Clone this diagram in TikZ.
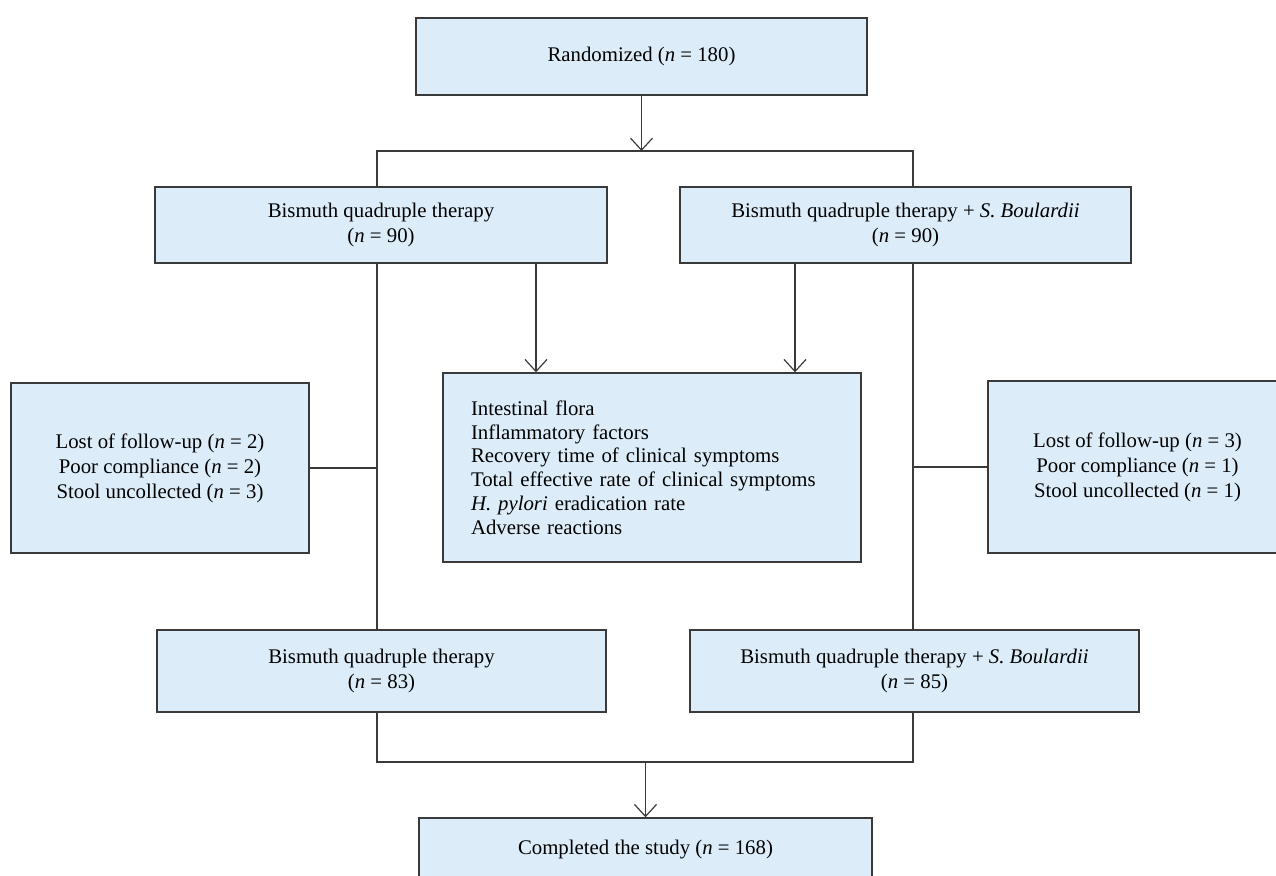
\documentclass[tikz,border=0pt]{standalone}
\usepackage{fontspec}
\setmainfont{Liberation Serif}
\usetikzlibrary{arrows.meta}
\definecolor{boxfill}{HTML}{DCEDF9}
\definecolor{boxline}{HTML}{3A3A3A}
\tikzset{
  box/.style={draw=boxline, fill=boxfill, line width=0.7pt, align=center, inner sep=0pt,
    font=\fontsize{10.4pt}{12.5pt}\selectfont},
  link/.style={draw=boxline, line width=0.6pt},
  arr/.style={link, -{Straight Barb[length=6pt,width=11pt]}}
}
\begin{document}
\begin{tikzpicture}[x=0.5pt, y=-0.5pt]
  \path[use as bounding box] (0,0) rectangle (1276,875);
  \clip (0,0) rectangle (1276,875);
  % Boxes
  \node[box, minimum width=225.5pt, minimum height=38.5pt] (rand) at (641.5,56.5)
    {Randomized (\textit{n} = 180)};
  \node[box, minimum width=226pt, minimum height=38pt] (bqt) at (381,225)
    {Bismuth quadruple therapy\\(\textit{n} = 90)};
  \node[box, minimum width=225.5pt, minimum height=38pt] (bqs) at (905.5,225)
    {Bismuth quadruple therapy + \textit{S. Boulardii}\\(\textit{n} = 90)};
  \node[box, minimum width=209pt, minimum height=94.5pt, inner xsep=14pt,
    text width=181pt, align=left, font=\fontsize{10.4pt}{11.9pt}\selectfont] (outc) at (652,467.5)
    {Intestinal flora\\Inflammatory factors\\Recovery time of clinical symptoms\\
     Total effective rate of clinical symptoms\\\textit{H. pylori} eradication rate\\
     Adverse reactions};
  \node[box, minimum width=149pt, minimum height=85pt] (lostl) at (160,468)
    {Lost of follow-up (\textit{n} = 2)\\Poor compliance (\textit{n} = 2)\\Stool uncollected (\textit{n} = 3)};
  \node[box, minimum width=149.5pt, minimum height=86pt] (lostr) at (1137.5,467)
    {Lost of follow-up (\textit{n} = 3)\\Poor compliance (\textit{n} = 1)\\Stool uncollected (\textit{n} = 1)};
  \node[box, minimum width=224.5pt, minimum height=41pt] (bqt2) at (381.5,671)
    {Bismuth quadruple therapy\\(\textit{n} = 83)};
  \node[box, minimum width=224.5pt, minimum height=41pt] (bqs2) at (914.5,671)
    {Bismuth quadruple therapy + \textit{S. Boulardii}\\(\textit{n} = 85)};
  \node[box, minimum width=226.5pt, minimum height=32pt] (done) at (645.5,850)
    {Completed the study (\textit{n} = 168)};
  % Split and merge lines
  \coordinate (splitL) at (377,151);
  \coordinate (splitR) at (913,151);
  \coordinate (mergeL) at (377,762);
  \coordinate (mergeR) at (913,762);
  \draw[arr] (rand.south) -- (rand.south |- splitL);
  \draw[link] (splitL |- bqt.north) -- (splitL) -- (splitR) -- (splitR |- bqs.north);
  \draw[link] (splitL |- bqt.south) -- (splitL |- bqt2.north);
  \draw[link] (splitR |- bqs.south) -- (splitR |- bqs2.north);
  \draw[link] (lostl.east) -- (lostl.east -| splitL);
  \draw[link] (lostr.west) -- (lostr.west -| splitR);
  \draw[arr] ([xshift=77.5pt]bqt.south) -- ([xshift=77.5pt]bqt.south |- outc.north);
  \draw[arr] ([xshift=-55.25pt]bqs.south) -- ([xshift=-55.25pt]bqs.south |- outc.north);
  \draw[link] (mergeL |- bqt2.south) -- (mergeL) -- (mergeR) -- (mergeR |- bqs2.south);
  \draw[arr] (done.north |- mergeL) -- (done.north);
\end{tikzpicture}
\end{document}
